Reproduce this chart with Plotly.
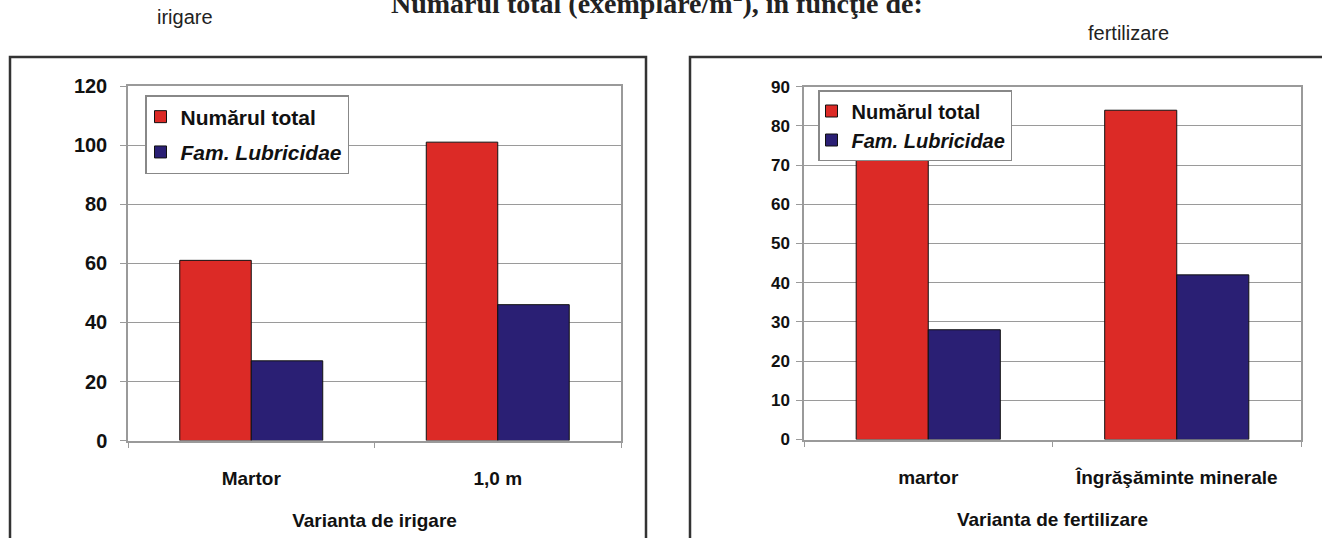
import plotly.graph_objects as go

# ---- data ----
irr_categories = ["Martor", "1,0 m"]
irr_total = [61, 101]
irr_lubricidae = [27, 46]

fert_categories = ["martor", "Îngrăşăminte minerale"]
fert_total = [72, 84]
fert_lubricidae = [28, 42]

series_names = ["<b>Numărul total</b>", "<b><i>Fam. Lubricidae</i></b>"]
left_y_ticks = [0, 20, 40, 60, 80, 100, 120]
right_y_ticks = [0, 10, 20, 30, 40, 50, 60, 70, 80, 90]

RED = "#DC2A26"
BLUE = "#2A1F74"
W, H = 1322, 538

def px(x):
    return x / W

def py(y):
    return (H - y) / H

fig = go.Figure()
fig.add_trace(go.Bar(x=irr_categories, y=irr_total, name=series_names[0],
                     marker=dict(color=RED, line=dict(color="#111", width=1)),
                     xaxis="x", yaxis="y", legend="legend", legendgroup="a"))
fig.add_trace(go.Bar(x=irr_categories, y=irr_lubricidae, name=series_names[1],
                     marker=dict(color=BLUE, line=dict(color="#111", width=1)),
                     xaxis="x", yaxis="y", legend="legend", legendgroup="b"))
fig.add_trace(go.Bar(x=fert_categories, y=fert_total, name=series_names[0],
                     marker=dict(color=RED, line=dict(color="#111", width=1)),
                     xaxis="x2", yaxis="y2", legend="legend2", legendgroup="c"))
fig.add_trace(go.Bar(x=fert_categories, y=fert_lubricidae, name=series_names[1],
                     marker=dict(color=BLUE, line=dict(color="#111", width=1)),
                     xaxis="x2", yaxis="y2", legend="legend2", legendgroup="d"))

GRID = "#9a9a9a"
FONT = "Liberation Sans, Arial, sans-serif"

common_x = dict(type="category", showline=True, linecolor=GRID, linewidth=1.5, mirror=True,
                ticks="outside", ticklen=6, tickcolor=GRID, tickson="boundaries",
                showgrid=False, automargin=False, ticklabelstandoff=20,
                tickfont=dict(family=FONT, size=19, color="#111", weight="bold"),
                title_font=dict(family=FONT, size=19, color="#111", weight="bold"))
common_y = dict(showline=True, linecolor=GRID, linewidth=1.5, mirror=True,
                ticks="outside", ticklen=6, tickcolor=GRID, showgrid=True,
                gridcolor=GRID, gridwidth=1.2, zeroline=False, automargin=False)

fig.update_layout(
    width=W, height=H, autosize=False,
    margin=dict(l=0, r=0, t=0, b=0, pad=0),
    paper_bgcolor="white", plot_bgcolor="white",
    barmode="group", bargap=0.42, bargroupgap=0,
    xaxis=dict(common_x, domain=[px(128), px(621)], anchor="y",
               title=dict(text="Varianta de irigare", standoff=26)),
    yaxis=dict(common_y, domain=[py(440.6), py(86)], anchor="x",
               range=[0, 120], tickvals=left_y_ticks, ticklabelstandoff=9,
               tickfont=dict(family=FONT, size=20, color="#111", weight="bold")),
    xaxis2=dict(common_x, domain=[px(804), px(1301)], anchor="y2",
                title=dict(text="Varianta de fertilizare", standoff=26)),
    yaxis2=dict(common_y, domain=[py(439.5), py(86.7)], anchor="x2",
                range=[0, 90], tickvals=right_y_ticks, ticklabelstandoff=3,
                tickfont=dict(family=FONT, size=17, color="#111", weight="bold")),
    legend=dict(x=px(145), y=py(95), xanchor="left", yanchor="top",
                bordercolor="#888", borderwidth=1.5, bgcolor="white",
                tracegroupgap=5, indentation=-6,
                font=dict(family=FONT, size=21, color="#111")),
    legend2=dict(x=px(818), y=py(90), xanchor="left", yanchor="top",
                 bordercolor="#888", borderwidth=1.5, bgcolor="white",
                 tracegroupgap=0, indentation=-8,
                 font=dict(family=FONT, size=20, color="#111")),
    shapes=[
        dict(type="rect", xref="paper", yref="paper", x0=px(10), x1=px(646),
             y0=-0.1, y1=py(57), line=dict(color="#333", width=2.5)),
        dict(type="rect", xref="paper", yref="paper", x0=px(690), x1=1.05,
             y0=-0.1, y1=py(57), line=dict(color="#333", width=2.5)),
    ],
    annotations=[
        dict(text="<b>Numărul total (exemplare/m<sup>2</sup>), în funcţie de:</b>",
             xref="paper", yref="paper", x=px(657), y=py(21), xanchor="center",
             yanchor="bottom", showarrow=False,
             font=dict(family="Liberation Serif, Times New Roman, serif", size=28, color="#222")),
        dict(text="irigare", xref="paper", yref="paper", x=px(185), y=py(17),
             xanchor="center", yanchor="middle", showarrow=False,
             font=dict(family=FONT, size=20, color="#222")),
        dict(text="fertilizare", xref="paper", yref="paper", x=px(1128), y=py(33),
             xanchor="center", yanchor="middle", showarrow=False,
             font=dict(family=FONT, size=20, color="#222")),
    ],
)

fig.write_html("out.html", config={"displayModeBar": False},
               post_script="document.body.style.margin='0';")
